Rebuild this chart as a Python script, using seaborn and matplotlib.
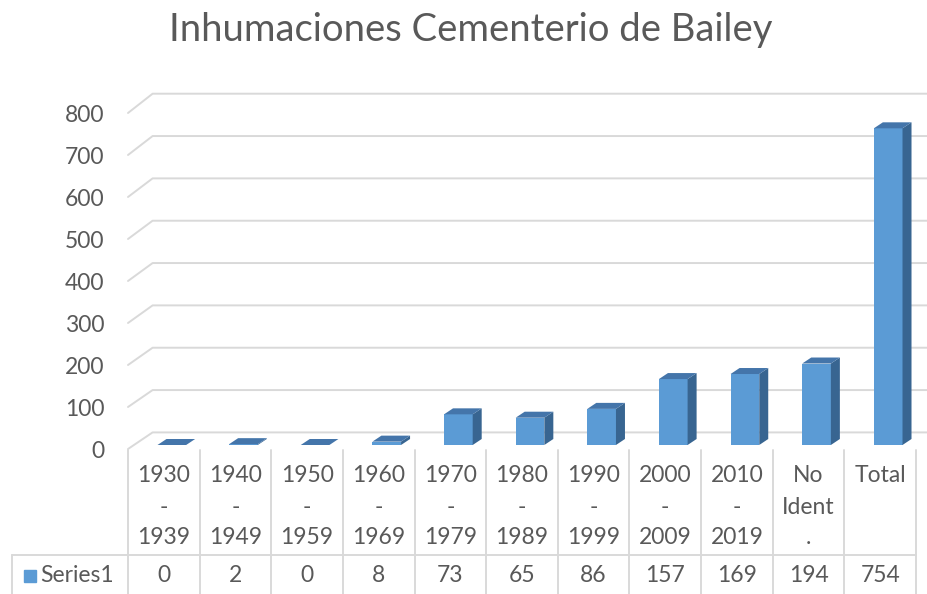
"""
Inhumaciones Cementerio de Bailey - Excel style 3D column chart with data table
"""

import matplotlib
matplotlib.use("Agg")
import matplotlib.pyplot as plt
import seaborn as sns
from matplotlib.patches import Polygon
from matplotlib.transforms import ScaledTranslation

# data
categories = ["1930\n-\n1939", "1940\n-\n1949", "1950\n-\n1959", "1960\n-\n1969",
              "1970\n-\n1979", "1980\n-\n1989", "1990\n-\n1999", "2000\n-\n2009",
              "2010\n-\n2019", "No\nIdent\n.", "Total"]
values = [0, 2, 0, 8, 73, 65, 86, 157, 169, 194, 754]
y_ticks = [0, 100, 200, 300, 400, 500, 600, 700, 800]
series_name = "Series1"
title = "Inhumaciones Cementerio de Bailey"

# colours
front_col = "#5B9BD5"
top_col = "#4475AA"
side_col = "#386591"
grid_col = "#D9D9D9"
text_col = "#595959"

sns.set_style("white")
plt.rcParams["font.family"] = ["Lato", "DejaVu Sans"]

W, H = 927, 594
fig = plt.figure(figsize=(W / 100, H / 100), dpi=100)
fig.patch.set_facecolor("white")

# front plane of the plot in pixels
left_px, right_px = 128, 916
zero_py, top_py = 449, 113
ax = fig.add_axes([left_px / W, (H - zero_py) / H,
                   (right_px - left_px) / W, (zero_py - top_py) / H])

n = len(categories)
px_x = (right_px - left_px) / n          # pixels per category
px_y = (zero_py - top_py) / y_ticks[-1]  # pixels per unit


def dy_px(py):
    # pixel row (from top) -> data y
    return -(py - zero_py) / px_y


def dx_px(px):
    return -0.5 + (px - left_px) / px_x


# back wall gridlines + left wall diagonals
for v in y_ticks:
    ox = 24.6 / px_x
    oy = (16.6 + 2.7 * v / y_ticks[-1]) / px_y
    ax.plot([-0.5, -0.5 + ox, dx_px(W)], [v, v + oy, v + oy],
            color=grid_col, lw=1.4, clip_on=False, zorder=0)

# bars
sns.barplot(x=categories, y=values, color=front_col, saturation=1,
            width=0.4, ax=ax, zorder=3, linewidth=0)

shift = ScaledTranslation(8 / 100, 4 / 100, fig.dpi_scale_trans)
ddx = 9 / px_x
ddy = 6 / px_y
for p in ax.patches:
    x0, w, h = p.get_x(), p.get_width(), p.get_height()
    p.set_transform(ax.transData + shift)
    p.set_clip_on(False)
    side = Polygon([(x0 + w, 0), (x0 + w + ddx, ddy), (x0 + w + ddx, h + ddy), (x0 + w, h)],
                   closed=True, facecolor=side_col, edgecolor="none",
                   transform=ax.transData + shift, clip_on=False, zorder=3)
    top = Polygon([(x0, h), (x0 + w, h), (x0 + w + ddx, h + ddy), (x0 + ddx, h + ddy)],
                  closed=True, facecolor=top_col, edgecolor="none",
                  transform=ax.transData + shift, clip_on=False, zorder=3)
    ax.add_patch(side)
    ax.add_patch(top)

ax.set_xlim(-0.5, n - 0.5)
ax.set_ylim(0, y_ticks[-1])
ax.set_xticks([])
ax.set_yticks(y_ticks)
ax.set_yticklabels([str(t) for t in y_ticks])
ax.tick_params(axis="y", length=0, pad=17, labelsize=16.5, labelcolor=text_col)
ax.set_xlabel("")
ax.set_ylabel("")
ax.grid(False)
for s in ax.spines.values():
    s.set_visible(False)
ax.patch.set_alpha(0)

# data table
line_kw = dict(color=grid_col, lw=1.4, clip_on=False, zorder=1)
for i in range(n + 1):
    ax.plot([i - 0.5, i - 0.5], [dy_px(450), dy_px(H + 2)], **line_kw)
ax.plot([dx_px(12), n - 0.5], [dy_px(555), dy_px(555)], **line_kw)
ax.plot([dx_px(12), dx_px(12)], [dy_px(555), dy_px(H + 2)], **line_kw)

row_py = [475, 507, 538]
for i, (cat, val) in enumerate(zip(categories, values)):
    for j, part in enumerate(cat.split("\n")):
        ax.text(i, dy_px(row_py[j]), part, ha="center", va="center",
                fontsize=16.5, color=text_col, clip_on=False)
    ax.text(i, dy_px(575), str(val), ha="center", va="center",
            fontsize=16.5, color=text_col, clip_on=False)

ax.plot([dx_px(29.5)], [dy_px(576)], marker="s", ms=9, color=front_col,
        clip_on=False, linestyle="none")
ax.text(dx_px(40), dy_px(575), series_name, ha="left", va="center",
        fontsize=16.5, color=text_col, clip_on=False)

fig.text(471 / W, 1 - 30 / H, title, ha="center", va="center",
         fontsize=27.5, color=text_col)

fig.savefig("out.png", dpi=100, facecolor="white")
